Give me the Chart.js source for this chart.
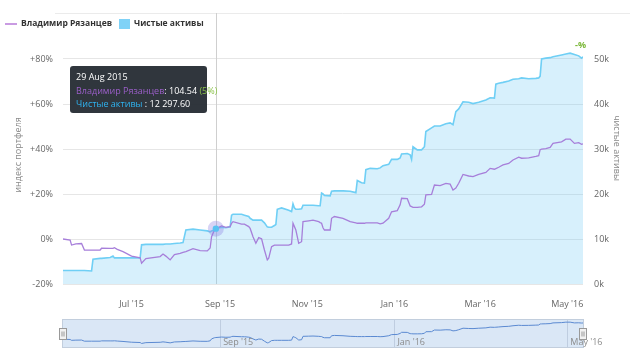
<!DOCTYPE html>
<html>
<head>
<meta charset="utf-8">
<script src="https://cdn.jsdelivr.net/npm/chart.js@4.4.0/dist/chart.umd.min.js"></script>
<style>
  html, body { margin: 0; padding: 0; background: #fff; }
  #wrap { position: relative; width: 630px; height: 354px; }
  .box { position: absolute; left: 0; width: 630px; }
</style>
</head>
<body>
<div id="wrap">
  <div class="box" style="top:0;height:310px"><canvas id="main"></canvas></div>
  <div class="box" style="top:310px;height:44px"><canvas id="nav"></canvas></div>
</div>
<script>
// chart data
var seriesNames = ['Владимир Рязанцев', 'Чистые активы'];
var axisTitles = ['индекс портфеля', 'чистые активы'];

var dates = [
  '2015-05-14','2015-05-19','2015-05-20','2015-05-23','2015-05-27','2015-05-29','2015-06-03','2015-06-04',
  '2015-06-09','2015-06-10','2015-06-16','2015-06-18','2015-06-19','2015-06-21','2015-06-25','2015-07-01',
  '2015-07-07','2015-07-08','2015-07-11','2015-07-21','2015-07-23','2015-07-25','2015-07-28','2015-07-31',
  '2015-08-04','2015-08-06','2015-08-08','2015-08-13','2015-08-18','2015-08-23','2015-08-25','2015-08-26',
  '2015-08-28','2015-08-29','2015-09-02','2015-09-05','2015-09-08','2015-09-09','2015-09-10','2015-09-16',
  '2015-09-18','2015-09-21','2015-09-22','2015-09-24','2015-09-26','2015-09-28','2015-09-30','2015-10-02',
  '2015-10-04','2015-10-05','2015-10-07','2015-10-09','2015-10-10','2015-10-11','2015-10-14','2015-10-19',
  '2015-10-21','2015-10-22','2015-10-23','2015-10-24','2015-10-26','2015-10-28','2015-10-29','2015-11-02',
  '2015-11-05','2015-11-09','2015-11-10','2015-11-11','2015-11-12','2015-11-13','2015-11-17','2015-11-18',
  '2015-11-20','2015-11-26','2015-12-01','2015-12-05','2015-12-06','2015-12-09','2015-12-11','2015-12-12',
  '2015-12-15','2015-12-20','2015-12-22','2015-12-24','2015-12-28','2015-12-30','2016-01-03','2016-01-05',
  '2016-01-06','2016-01-10','2016-01-12','2016-01-13','2016-01-14','2016-01-17','2016-01-20','2016-01-22',
  '2016-01-23','2016-01-27','2016-01-29','2016-02-02','2016-02-06','2016-02-09','2016-02-11','2016-02-13',
  '2016-02-15','2016-02-18','2016-02-22','2016-02-25','2016-02-29','2016-03-05','2016-03-08','2016-03-11',
  '2016-03-12','2016-03-14','2016-03-17','2016-03-21','2016-03-24','2016-03-28','2016-03-30','2016-04-04',
  '2016-04-09','2016-04-11','2016-04-12','2016-04-13','2016-04-16','2016-04-19','2016-04-21','2016-04-27',
  '2016-04-30','2016-05-03','2016-05-06','2016-05-09','2016-05-11','2016-05-12'
];

// portfolio index, % change from start
var portfolioIndex = [
  0, -0.5, -2.7, -2.2, -2.0, -4.9, -4.9, -4.9,
  -4.9, -4.1, -4.2, -4.2, -3.9, -4.6, -5.6, -7.6,
  -8.4, -10.8, -8.7, -7.8, -6.7, -7.6, -9.3, -6.9,
  -6.4, -5.9, -5.6, -4.3, -5.2, -5.3, -4.0, 1.0,
  4.0, 4.54, 5.8, 5.2, 5.5, 7.0, 7.7, 6.6,
  6.6, 5.5, 4.7, 1.0, -1.9, 0.6, 0.1, -4.9,
  -9.3, -8.5, -3.4, -2.7, -2.7, -2.7, -2.7, -2.7,
  -2.2, 7.0, 5.5, 4.0, -1.9, -1.2, 7.7, 8.1,
  8.4, 7.7, 7.3, 7.0, 5.0, 4.0, 4.0, 9.2,
  10.0, 9.2, 7.7, 7.2, 7.0, 7.0, 7.0, 7.2,
  7.2, 7.2, 6.7, 7.0, 9.2, 12.1, 12.6, 15.2,
  18.1, 17.9, 14.7, 14.4, 14.1, 14.1, 14.3, 15.5,
  19.6, 19.8, 24.0, 23.7, 24.7, 24.4, 21.8, 22.6,
  24.8, 28.7, 28.0, 27.7, 28.7, 29.6, 31.4, 31.0,
  31.3, 31.9, 32.9, 33.6, 35.1, 36.4, 35.9, 36.1,
  36.7, 37.0, 39.7, 39.9, 40.2, 40.7, 42.5, 43.2,
  44.4, 44.4, 42.5, 42.8, 42.1, 42.3
];

// net assets
var netAssets = [
  3000, 3000, 3000, 3000, 3000, 3000, 2900, 5500,
  5700, 5700, 5900, 6200, 5800, 5800, 5800, 5800,
  5800, 8700, 8800, 8800, 8800, 8900, 8900, 9000,
  9100, 9200, 12000, 12200, 12000, 11800, 11600, 11800,
  12000, 12297.6, 12600, 12500, 12700, 15300, 15500, 15500,
  15300, 15000, 14600, 14200, 14200, 14200, 14200, 13600,
  12700, 12600, 12600, 13000, 13200, 16600, 16900, 16400,
  16100, 17800, 16900, 16600, 16600, 16700, 17500, 17500,
  17500, 17400, 17400, 20200, 20000, 19700, 19600, 20600,
  20700, 20700, 20600, 20300, 23000, 22500, 22400, 25400,
  25700, 25600, 25800, 26300, 26600, 27700, 27700, 28000,
  28900, 29000, 28700, 27700, 30500, 29800, 29800, 30500,
  33900, 34700, 35100, 35100, 35600, 35800, 35400, 38300,
  38900, 40500, 40400, 40100, 40400, 40900, 41400, 41300,
  44400, 44600, 44800, 45100, 45500, 45600, 45800, 45600,
  45700, 45800, 46200, 50000, 50200, 50300, 50500, 50900,
  51100, 51300, 51000, 50700, 50200, 50500
];

var xRange = ['2015-05-14', '2016-05-12'];
var monthTicks = ['2015-07-01','2015-09-01','2015-11-01','2016-01-01','2016-03-01','2016-05-01'];
var monthLabels = ["Jul '15","Sep '15","Nov '15","Jan '16","Mar '16","May '16"];
var navTicks = ['2015-09-01','2016-01-01','2016-05-01'];
var navLabels = ["Sep '15","Jan '16","May '16"];
var indexTicks = [-20, 0, 20, 40, 60, 80];
var assetTicks = [0, 10000, 20000, 30000, 40000, 50000];
var hoverDate = '2015-08-29';
var monthShort = ['Jan','Feb','Mar','Apr','May','Jun','Jul','Aug','Sep','Oct','Nov','Dec'];

var FONT = '"Open Sans", sans-serif';
var PURPLE = '#a77fda';
var BLUE = '#6fcff5';

function t(s) { return Date.parse(s + 'T00:00:00Z'); }

var indexPoints = dates.map(function (d, i) { return { x: t(d), y: portfolioIndex[i] }; });
var assetPoints = dates.map(function (d, i) { return { x: t(d), y: netAssets[i] }; });

Chart.defaults.font.family = FONT;
Chart.defaults.font.size = 9;
Chart.defaults.color = '#666';

function fmtAssets(v) {
  var p = v.toFixed(2).split('.');
  return p[0].replace(/\B(?=(\d{3})+(?!\d))/g, ' ') + '.' + p[1];
}

function drawParts(ctx, x, y, parts) {
  parts.forEach(function (p) {
    ctx.fillStyle = p[1];
    ctx.fillText(p[0], x, y);
    x += ctx.measureText(p[0]).width;
  });
}

var overlay = {
  id: 'overlay',
  beforeDatasetsDraw: function (chart) {
    var ctx = chart.ctx, a = chart.chartArea;
    var hx = Math.round(chart.scales.x.getPixelForValue(t(hoverDate))) + 0.5;
    ctx.save();
    ctx.lineWidth = 1;
    ctx.strokeStyle = '#ebebeb';
    ctx.beginPath(); ctx.moveTo(55, 13.5); ctx.lineTo(630, 13.5); ctx.stroke();
    ctx.strokeStyle = '#cfcfcf';
    ctx.beginPath(); ctx.moveTo(hx, 13); ctx.lineTo(hx, a.bottom); ctx.stroke();
    ctx.restore();
  },
  afterDraw: function (chart) {
    var ctx = chart.ctx;
    var hi = dates.indexOf(hoverDate);
    ctx.save();

    // legend
    ctx.textBaseline = 'middle';
    ctx.font = 'bold 8.5px ' + FONT;
    ctx.strokeStyle = '#c99be2'; ctx.lineWidth = 2;
    ctx.beginPath(); ctx.moveTo(5, 24); ctx.lineTo(17, 24); ctx.stroke();
    ctx.fillStyle = '#333';
    ctx.fillText(seriesNames[0], 21, 24);
    ctx.fillStyle = '#7fd2f7';
    ctx.fillRect(119, 19, 11, 10);
    ctx.fillStyle = '#333';
    ctx.fillText(seriesNames[1], 134, 24);

    // axis titles
    ctx.font = '9px ' + FONT;
    ctx.fillStyle = '#8a8a8a';
    ctx.textAlign = 'center';
    ctx.save(); ctx.translate(18, 155); ctx.rotate(-Math.PI / 2); ctx.fillText(axisTitles[0], 0, 0); ctx.restore();
    ctx.save(); ctx.translate(617, 148); ctx.rotate(Math.PI / 2); ctx.fillText(axisTitles[1], 0, 0); ctx.restore();

    // compare label
    ctx.font = 'bold 9px ' + FONT;
    ctx.fillStyle = '#7cb83a';
    ctx.textAlign = 'right';
    ctx.fillText('-%', 586, 45);

    // hover marker
    var px = chart.scales.x.getPixelForValue(t(hoverDate));
    var py = chart.scales.yAssets.getPixelForValue(netAssets[hi]);
    ctx.fillStyle = 'rgba(140,130,225,0.35)';
    ctx.beginPath(); ctx.arc(px, py, 8, 0, Math.PI * 2); ctx.fill();
    ctx.fillStyle = '#58c2f2';
    ctx.beginPath(); ctx.arc(px, py, 3.2, 0, Math.PI * 2); ctx.fill();

    // tooltip
    ctx.fillStyle = 'rgba(40,46,53,0.96)';
    ctx.beginPath();
    if (ctx.roundRect) ctx.roundRect(70, 66, 137, 47, 3); else ctx.rect(70, 66, 137, 47);
    ctx.fill();
    ctx.textAlign = 'left';
    var d = new Date(t(hoverDate));
    var dateText = d.getUTCDate() + ' ' + monthShort[d.getUTCMonth()] + ' ' + d.getUTCFullYear();
    ctx.font = '9px ' + FONT;
    ctx.fillStyle = '#ffffff';
    ctx.fillText(dateText, 76, 77);
    var idx = 100 + portfolioIndex[hi];
    drawParts(ctx, 76, 91, [
      [seriesNames[0], '#9b5fc9'],
      [': ' + idx.toFixed(2) + ' ', '#ffffff'],
      ['(' + Math.round(portfolioIndex[hi]) + '%)', '#8cc34b']
    ]);
    drawParts(ctx, 76, 104, [
      [seriesNames[1], '#2fb3f0'],
      [' : ' + fmtAssets(netAssets[hi]), '#ffffff']
    ]);
    ctx.restore();
  }
};

new Chart(document.getElementById('main'), {
  type: 'line',
  data: {
    datasets: [
      {
        label: seriesNames[0], data: indexPoints, yAxisID: 'yIdx',
        borderColor: PURPLE, borderWidth: 1.3, pointRadius: 0, fill: false, tension: 0
      },
      {
        label: seriesNames[1], data: assetPoints, yAxisID: 'yAssets',
        borderColor: BLUE, borderWidth: 1.6, pointRadius: 0, tension: 0,
        fill: 'origin', backgroundColor: 'rgba(124,205,244,0.3)'
      }
    ]
  },
  options: {
    animation: false,
    responsive: true,
    maintainAspectRatio: false,
    events: [],
    // both value axes run a little past the top tick, as in the original
    layout: { padding: { top: 50, left: 0, right: 0, bottom: 0 } },
    plugins: { legend: { display: false }, tooltip: { enabled: false } },
    scales: {
      x: {
        type: 'linear', min: t(xRange[0]), max: t(xRange[1]),
        afterBuildTicks: function (s) { s.ticks = monthTicks.map(function (m) { return { value: t(m) }; }); },
        ticks: {
          autoSkip: false, maxRotation: 0, padding: 7, color: '#666',
          callback: function (v, i) { return monthLabels[i]; }
        },
        grid: { display: false },
        border: { display: false },
        afterFit: function (s) { s.height = 26; }
      },
      yIdx: {
        position: 'left', min: -20, max: 84,
        afterBuildTicks: function (s) { s.ticks = indexTicks.map(function (v) { return { value: v }; }); },
        ticks: {
          padding: 10, color: '#666',
          callback: function (v) { return (v > 0 ? '+' : '') + v + '%'; }
        },
        grid: { color: '#e6e6e6', drawTicks: false },
        border: { display: false },
        afterFit: function (s) { s.width = 63; }
      },
      yAssets: {
        position: 'right', min: 0, max: 52000,
        afterBuildTicks: function (s) { s.ticks = assetTicks.map(function (v) { return { value: v }; }); },
        ticks: {
          padding: 11, color: '#666',
          callback: function (v) { return (v / 1000) + 'k'; }
        },
        grid: { display: false, drawTicks: false },
        border: { display: false },
        afterFit: function (s) { s.width = 47; }
      }
    }
  },
  plugins: [overlay]
});

// navigator strip
var navDecor = {
  id: 'navDecor',
  beforeDraw: function (chart) {
    var ctx = chart.ctx, a = chart.chartArea;
    ctx.save();
    ctx.fillStyle = '#dae7f6';
    ctx.fillRect(a.left - 1, a.top - 1, a.right - a.left + 1, a.bottom - a.top + 2);
    ctx.restore();
  },
  afterDraw: function (chart) {
    var ctx = chart.ctx, a = chart.chartArea, xs = chart.scales.x;
    ctx.save();
    ctx.strokeStyle = '#c2cedd'; ctx.lineWidth = 1;
    ctx.strokeRect(a.left - 0.5, a.top - 0.5, a.right - a.left + 1, a.bottom - a.top + 1);
    ctx.font = '9px ' + FONT;
    ctx.fillStyle = '#8c8c8c';
    ctx.textBaseline = 'middle';
    navTicks.forEach(function (m, i) {
      ctx.fillText(navLabels[i], xs.getPixelForValue(t(m)) + 3, a.top + 22);
    });
    [a.left, a.right].forEach(function (hx) {
      var x0 = Math.round(hx) - 3.5, y0 = a.top + 8.5;
      ctx.fillStyle = '#f2f2f2';
      ctx.fillRect(x0, y0, 7, 11);
      ctx.strokeStyle = '#999';
      ctx.strokeRect(x0, y0, 7, 11);
      ctx.beginPath();
      ctx.moveTo(x0 + 2.5, y0 + 3); ctx.lineTo(x0 + 2.5, y0 + 8);
      ctx.moveTo(x0 + 4.5, y0 + 3); ctx.lineTo(x0 + 4.5, y0 + 8);
      ctx.stroke();
    });
    ctx.restore();
  }
};

new Chart(document.getElementById('nav'), {
  type: 'line',
  data: {
    datasets: [{
      data: indexPoints, borderColor: '#5b8ad2', borderWidth: 1,
      pointRadius: 0, fill: false, tension: 0
    }]
  },
  options: {
    animation: false,
    responsive: true,
    maintainAspectRatio: false,
    events: [],
    layout: { padding: { top: 10, left: 63, right: 47, bottom: 7 } },
    plugins: { legend: { display: false }, tooltip: { enabled: false } },
    scales: {
      x: {
        type: 'linear', min: t(xRange[0]), max: t(xRange[1]),
        afterBuildTicks: function (s) { s.ticks = navTicks.map(function (m) { return { value: t(m) }; }); },
        ticks: { display: false },
        grid: { color: '#bfcde0', drawTicks: false },
        border: { display: false }
      },
      y: { display: false, min: -20, max: 50 }
    }
  },
  plugins: [navDecor]
});
</script>
</body>
</html>
